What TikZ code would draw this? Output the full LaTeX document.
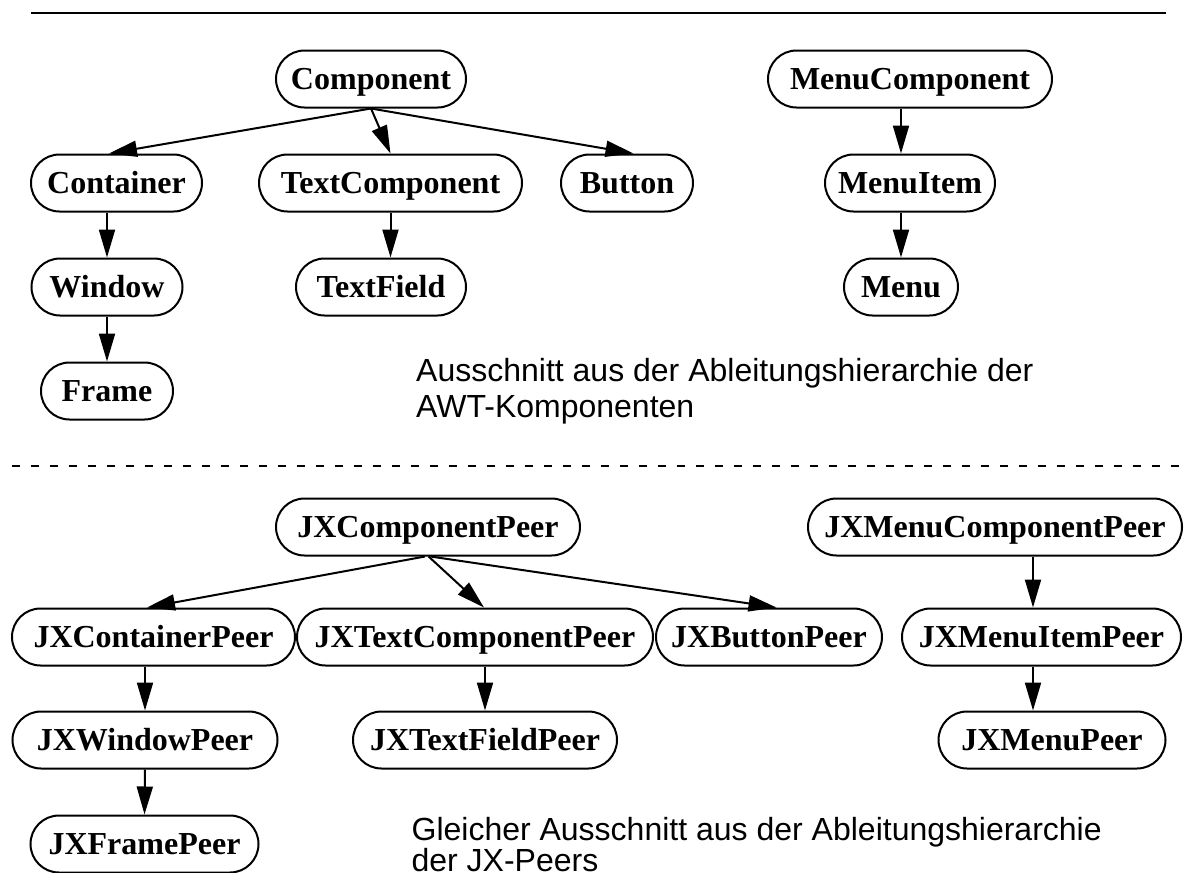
\documentclass[tikz,border=0pt]{standalone}
\usepackage{fontspec}
\setmainfont{Liberation Serif}
\setsansfont{Liberation Sans}
\usetikzlibrary{arrows.meta,calc}

\tikzset{
  cls/.style={draw, line width=2pt, rounded corners=28.5pt, minimum height=57pt,
    inner sep=0pt, text height=24pt, text depth=4pt,
    font=\fontsize{32}{38}\selectfont\bfseries},
  arr/.style={line width=2pt, -{Triangle[length=28pt,width=16pt]}},
  caption/.style={anchor=base west, inner sep=0pt, font=\sffamily\fontsize{32}{36}\selectfont},
  rule/.style={line width=2.2pt},
  sep/.style={line width=1.6pt, dash pattern=on 8pt off 11pt}
}

\begin{document}
\begin{tikzpicture}[x=1pt,y=-1pt]
\useasboundingbox (0,0) rectangle (1184,873);

% separating rules
\draw[rule] (30.6,12.7) -- (1166,12.7);
\draw[sep] (11.5,466) -- (1184,466);

% AWT hierarchy
\node[cls, minimum width=190pt] (comp)   at (371,79)    {Component};
\node[cls, minimum width=171pt] (cont)   at (116.5,183) {Container};
\node[cls, minimum width=263pt] (tcomp)  at (390.5,183) {TextComponent};
\node[cls, minimum width=132pt] (btn)    at (627,183)   {Button};
\node[cls, minimum width=151pt] (win)    at (107,287)   {Window};
\node[cls, minimum width=170pt] (tfield) at (381,287)   {TextField};
\node[cls, minimum width=132pt] (frame)  at (107,391)   {Frame};
\node[cls, minimum width=284pt] (mcomp)  at (910,79)    {MenuComponent};
\node[cls, minimum width=170pt] (mitem)  at (910,183)   {MenuItem};
\node[cls, minimum width=114pt] (menu)   at (901,287)   {Menu};

\draw[arr] (comp.south) -- ($(cont.north)+(-7.5,0)$);
\draw[arr] (comp.south) -- (tcomp.north);
\draw[arr] (comp.south) -- ($(btn.north)+(6.5,0)$);
\draw[arr] (cont.south -| win) -- (win.north);
\draw[arr] (win.south) -- (frame.north);
\draw[arr] (tcomp.south) -- (tcomp.south |- tfield.north);
\draw[arr] (mcomp.south -| menu) -- (mitem.north -| menu);
\draw[arr] (mitem.south -| menu) -- (menu.north);

\node[caption] (capa1) at (416,381.7) {Ausschnitt aus der Ableitungshierarchie der};
\node[caption] (capa2) at (416,417)   {AWT-Komponenten};

% JX peer hierarchy
\node[cls, minimum width=304pt] (jcomp)   at (428,527)    {JXComponentPeer};
\node[cls, minimum width=283pt] (jcont)   at (153.5,637)  {JXContainerPeer};
\node[cls, minimum width=356pt] (jtcomp)  at (475,637)    {JXTextComponentPeer};
\node[cls, minimum width=226pt] (jbtn)    at (769,637)    {JXButtonPeer};
\node[cls, minimum width=265pt] (jwin)    at (145,740)    {JXWindowPeer};
\node[cls, minimum width=264pt] (jtfield) at (485,740)    {JXTextFieldPeer};
\node[cls, minimum width=228pt] (jframe)  at (144.5,844)  {JXFramePeer};
\node[cls, minimum width=374pt] (jmcomp)  at (995,527)    {JXMenuComponentPeer};
\node[cls, minimum width=279pt] (jmitem)  at (1041.5,637) {JXMenuItemPeer};
\node[cls, minimum width=227pt] (jmenu)   at (1052,740)   {JXMenuPeer};

\coordinate (mx) at (1033,0);
\draw[arr] ($(jcomp.south)+(-3,0)$) -- ($(jcont.north)+(-6.5,0)$);
\draw[arr] ($(jcomp.south)+(0.6,0)$) -- ($(jtcomp.north)+(9,0)$);
\draw[arr] ($(jcomp.south)+(2.5,0)$) -- ($(jbtn.north)+(7.5,0)$);
\draw[arr] (jcont.south -| jwin) -- (jwin.north);
\draw[arr] (jwin.south) -- (jframe.north);
\draw[arr] (jtcomp.south -| jtfield) -- (jtfield.north);
\draw[arr] (jmcomp.south -| mx) -- (jmitem.north -| mx);
\draw[arr] (jmitem.south -| mx) -- (jmenu.north -| mx);

\node[caption] (capb1) at (411.4,840) {Gleicher Ausschnitt aus der Ableitungshierarchie};
\node[caption] (capb2) at (411.4,871) {der JX-Peers};
\end{tikzpicture}
\end{document}
